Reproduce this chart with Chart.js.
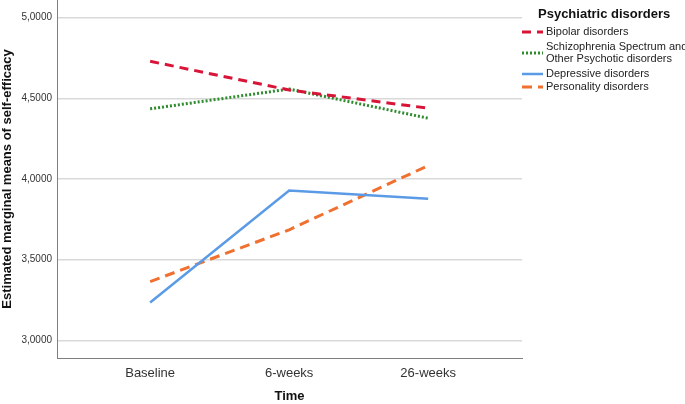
<!DOCTYPE html>
<html>
<head>
<meta charset="utf-8">
<script src="https://cdn.jsdelivr.net/npm/chart.js@4"></script>
<style>
  html, body { margin: 0; padding: 0; background: #fff; }
  #wrap { width: 685px; height: 404px; }
</style>
</head>
<body>
<div id="wrap"><canvas id="chart" width="685" height="404"></canvas></div>
<script>
// 데이터
const timePoints = ['Baseline', '6-weeks', '26-weeks'];
const yTicks = [3.0, 3.5, 4.0, 4.5, 5.0];

const bipolar = [4.73, 4.552, 4.439];
const schizophrenia = [4.435, 4.558, 4.377];
const depressive = [3.234, 3.928, 3.877];
const personality = [3.364, 3.685, 4.083];

const seriesNames = [
    'Bipolar disorders',
    ['Schizophrenia Spectrum and', 'Other Psychotic disorders'],
    'Depressive disorders',
    'Personality disorders'
];

const FONT = '"Liberation Sans", Arial, sans-serif';

function toPoints(arr) {
    return arr.map((v, i) => ({ x: i, y: v }));
}

// 범례 직접 그리기 (여러 줄 라벨 때문에)
const legendPlugin = {
    id: 'customLegend',
    afterDraw(chart) {
        const ctx = chart.ctx;
        ctx.save();
        ctx.fillStyle = '#111';
        ctx.font = 'bold 13px ' + FONT;
        ctx.textBaseline = 'middle';
        ctx.textAlign = 'left';
        ctx.fillText('Psychiatric disorders', 538, 14);

        const rows = [32, 53, 74, 87];
        ctx.font = '11px ' + FONT;
        chart.data.datasets.forEach((ds, i) => {
            const y = rows[i];
            ctx.beginPath();
            ctx.strokeStyle = ds.borderColor;
            ctx.lineWidth = ds.borderWidth;
            ctx.setLineDash(ds.borderDash || []);
            ctx.moveTo(522, y);
            ctx.lineTo(543, y);
            ctx.stroke();
            ctx.setLineDash([]);
            ctx.fillStyle = '#222';
            const name = seriesNames[i];
            if (Array.isArray(name)) {
                ctx.fillText(name[0], 546, y - 6);
                ctx.fillText(name[1], 546, y + 6);
            } else {
                ctx.fillText(name, 546, y);
            }
        });
        ctx.restore();
    }
};

new Chart(document.getElementById('chart'), {
    type: 'line',
    data: {
        datasets: [
            {
                label: 'Bipolar disorders',
                data: toPoints(bipolar),
                borderColor: '#D81438',
                borderWidth: 3,
                borderDash: [9, 6]
            },
            {
                label: 'Schizophrenia Spectrum and Other Psychotic disorders',
                data: toPoints(schizophrenia),
                borderColor: '#2E8B2E',
                borderWidth: 3,
                borderDash: [2, 2]
            },
            {
                label: 'Depressive disorders',
                data: toPoints(depressive),
                borderColor: '#5B9BE6',
                borderWidth: 2.5
            },
            {
                label: 'Personality disorders',
                data: toPoints(personality),
                borderColor: '#F07030',
                borderWidth: 3,
                borderDash: [10, 6]
            }
        ]
    },
    options: {
        responsive: false,
        animation: false,
        layout: { padding: { top: 0, right: 163, left: 0, bottom: 0 } },
        elements: {
            point: { radius: 0 },
            line: { tension: 0, fill: false }
        },
        plugins: {
            legend: { display: false },
            tooltip: { enabled: false }
        },
        scales: {
            x: {
                type: 'linear',
                min: -0.67,
                max: 2.675,
                afterBuildTicks: scale => {
                    scale.ticks = timePoints.map((_, i) => ({ value: i }));
                },
                afterFit: scale => { scale.height = 46; },
                grid: { display: false, drawTicks: false },
                border: { display: true, color: '#7f7f7f', width: 1 },
                ticks: {
                    padding: 8,
                    color: '#333',
                    font: { family: FONT, size: 13 },
                    maxRotation: 0,
                    callback: v => timePoints[v] || ''
                },
                title: {
                    display: true,
                    text: 'Time',
                    color: '#111',
                    font: { family: FONT, size: 13, weight: 'bold' },
                    padding: { top: 4, bottom: 0 }
                }
            },
            y: {
                min: 2.89,
                max: 5.11,
                afterBuildTicks: scale => {
                    scale.ticks = yTicks.map(v => ({ value: v }));
                },
                afterFit: scale => {
                    scale.width = 57;
                    scale.paddingTop = 0;
                    scale.paddingBottom = 0;
                },
                grid: { color: '#d9d9d9', lineWidth: 1.5, drawTicks: false },
                border: { display: true, color: '#7f7f7f', width: 1 },
                ticks: {
                    padding: 5,
                    color: '#333',
                    font: { family: FONT, size: 10 },
                    callback: v => v.toFixed(4).replace('.', ',')
                },
                title: {
                    display: true,
                    text: 'Estimated marginal means of self-efficacy',
                    color: '#111',
                    font: { family: FONT, size: 13, weight: 'bold' },
                    padding: { top: 0, bottom: 2 }
                }
            }
        }
    },
    plugins: [legendPlugin]
});
</script>
</body>
</html>
